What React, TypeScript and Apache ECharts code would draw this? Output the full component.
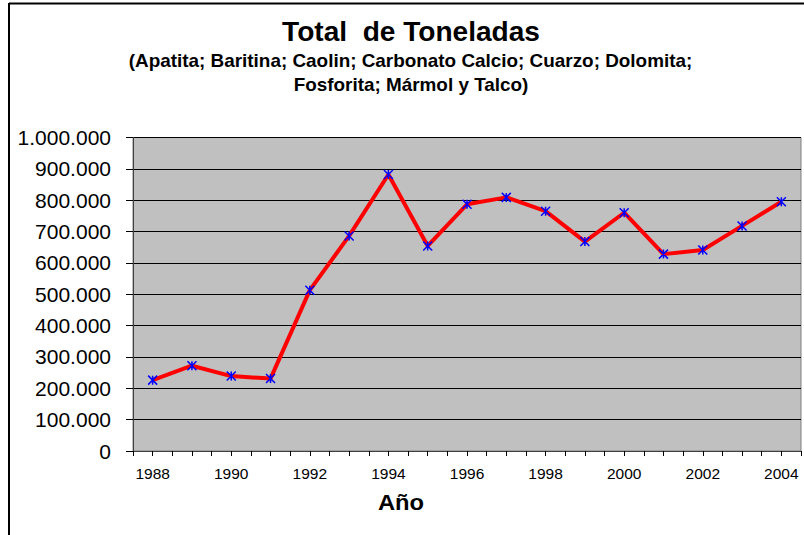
import React, { useEffect, useRef } from "react";
import * as echarts from "echarts";

const years = [1988, 1989, 1990, 1991, 1992, 1993, 1994, 1995, 1996, 1997, 1998, 1999, 2000, 2001, 2002, 2003, 2004];
const toneladas = [226000, 272000, 239000, 231000, 513000, 686000, 882000, 654000, 787000, 809000, 765000, 668000, 760000, 628000, 641000, 718000, 795000];
const titleText = "Total  de Toneladas";
const subtitleLines = [
  "(Apatita; Baritina; Caolin; Carbonato Calcio; Cuarzo; Dolomita;",
  "Fosforita; Mármol y Talco)",
];
const xName = "Año";

const fmtThousands = (v: number) => String(v).replace(/\B(?=(\d{3})+(?!\d))/g, ".");

export default function App() {
  const ref = useRef<HTMLDivElement>(null);
  useEffect(() => {
    if (!ref.current) return;
    const chart = echarts.init(ref.current, null, { renderer: "svg" });
    const font = "'Liberation Sans', Arial, sans-serif";
    chart.setOption({
      animation: false,
      backgroundColor: "#ffffff",
      textStyle: { fontFamily: font },
      grid: {
        left: 133,
        top: 137.5,
        right: 2,
        bottom: 84,
        show: true,
        backgroundColor: "#C0C0C0",
        borderColor: "#808080",
        borderWidth: 1,
      },
      xAxis: {
        type: "value",
        min: 1987.5,
        max: 2004.5,
        interval: 0.5,
        axisLine: { show: true, lineStyle: { color: "#404040", width: 1 } },
        axisTick: { show: true, length: 5, lineStyle: { color: "#000" } },
        splitLine: { show: false },
        axisLabel: {
          margin: 14,
          fontSize: 15.5,
          color: "#000",
          fontFamily: font,
          showMinLabel: true,
          showMaxLabel: true,
          formatter: (v: number) => (Number.isInteger(v) && v % 2 === 0 ? String(v) : ""),
        },
      },
      yAxis: {
        type: "value",
        min: 0,
        max: 1000000,
        interval: 100000,
        axisLine: { show: true, lineStyle: { color: "#404040", width: 1 } },
        axisTick: { show: true, length: 7, lineStyle: { color: "#000" } },
        splitLine: { show: true, lineStyle: { color: "#000", width: 1 } },
        axisLabel: {
          margin: 22,
          fontSize: 21,
          color: "#000",
          fontFamily: font,
          formatter: (v: number) => fmtThousands(v),
        },
      },
      graphic: [
        { type: "line", shape: { x1: 9, y1: 3.5, x2: 804, y2: 3.5 }, style: { stroke: "#000", lineWidth: 2 } },
        { type: "line", shape: { x1: 9, y1: 3, x2: 9, y2: 535 }, style: { stroke: "#000", lineWidth: 2 } },
        {
          type: "text",
          x: 411,
          y: 32,
          scaleX: 1.04,
          style: { text: titleText, font: `bold 27px ${font}`, fill: "#000", textAlign: "center", textVerticalAlign: "middle" },
        },
        {
          type: "text",
          x: 410.5,
          y: 61,
          scaleX: 1.08,
          style: { text: subtitleLines[0], font: `bold 17.5px ${font}`, fill: "#000", textAlign: "center", textVerticalAlign: "middle" },
        },
        {
          type: "text",
          x: 411,
          y: 85,
          scaleX: 1.08,
          style: { text: subtitleLines[1], font: `bold 17.5px ${font}`, fill: "#000", textAlign: "center", textVerticalAlign: "middle" },
        },
        {
          type: "text",
          x: 401,
          y: 502,
          scaleX: 1.08,
          style: { text: xName, font: `bold 22px ${font}`, fill: "#000", textAlign: "center", textVerticalAlign: "middle" },
        },
      ],
      series: [
        {
          type: "line",
          data: years.map((y, i) => [y, toneladas[i]]),
          lineStyle: { color: "#FF0000", width: 4 },
          symbol: "path://M0,0L10,10M10,0L0,10M5,0L5,10",
          symbolSize: 9,
          itemStyle: { color: "rgba(0,0,255,0)", borderColor: "#0000FF", borderWidth: 1.5 },
          z: 3,
        },
      ],
    });
    return () => chart.dispose();
  }, []);
  return <div ref={ref} style={{ position: "absolute", left: 0, top: 0, width: 804, height: 535 }} />;
}
